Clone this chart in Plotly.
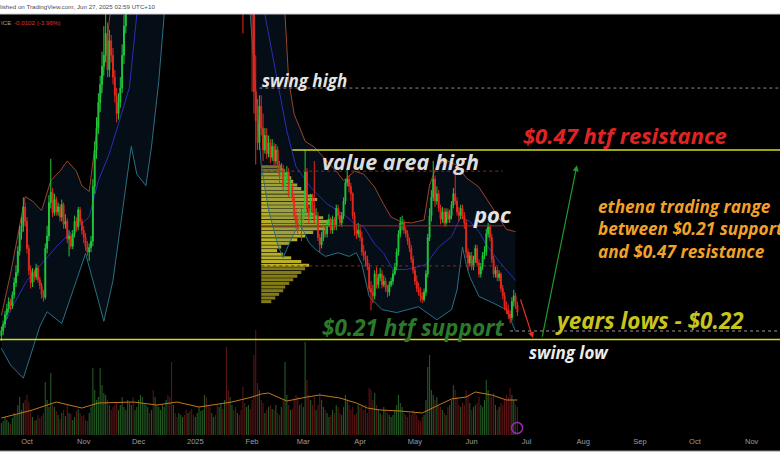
import plotly.graph_objects as go
import pandas as pd

# ---------------- daily OHLC (Sep 17 2024 -> Jun 26 2025) ----------------
opens = [
 0.215,0.222,0.231,0.244,0.252,0.262,0.256,0.271,0.288,0.302,0.331,0.357,0.366,0.392,
 0.372,0.335,0.305,0.288,0.302,0.296,0.308,0.292,0.284,0.272,0.268,0.335,0.352,0.398,0.412,0.384,0.402,0.385,0.392,0.378,0.395,0.368,0.372,0.348,0.352,0.338,0.355,0.372,0.365,0.388,0.372,
 0.360,0.350,0.338,0.330,0.336,0.345,0.420,0.470,0.500,0.535,0.560,0.585,0.600,0.630,0.580,0.620,0.600,0.570,0.545,0.520,0.535,0.555,0.600,0.640,0.670,0.700,0.720,0.770,0.740,0.750,
 0.78,0.85,0.92,0.98,1.02,1.06,1.10,1.07,1.08,0.93,0.97,1.05,1.08,1.12,1.18,1.20,1.25,1.22,1.05,0.95,0.96,0.93,0.92,0.98,1.05,1.08,1.02,0.98,1.00,0.95,0.92,
 0.90,0.95,1.00,1.05,1.08,1.10,1.15,1.02,0.95,0.88,0.90,0.92,0.88,0.82,0.85,0.90,0.88,0.95,0.92,0.85,0.88,0.92,0.90,0.86,0.88,0.85,0.80,0.72,0.70,0.71,0.74,
 0.70,0.66,0.55,0.51,0.48,0.53,0.50,0.47,0.49,0.465,0.48,0.46,0.475,0.455,0.47,0.45,0.435,0.445,0.42,0.43,0.44,0.41,0.42,0.405,0.38,0.37,0.365,0.38,
 0.375,0.385,0.44,0.39,0.38,0.40,0.395,0.375,0.38,0.35,0.34,0.35,0.36,0.355,0.37,0.375,0.36,0.375,0.365,0.39,0.38,0.37,0.38,0.40,0.425,0.43,0.42,0.41,0.38,0.36,0.355,
 0.36,0.35,0.33,0.325,0.32,0.31,0.28,0.275,0.27,0.30,0.285,0.295,0.30,0.285,0.29,0.28,0.275,0.285,0.29,0.30,0.31,0.33,0.355,0.37,0.37,0.36,0.355,0.345,0.335,0.32,
 0.305,0.29,0.28,0.275,0.27,0.265,0.275,0.30,0.35,0.38,0.405,0.43,0.40,0.41,0.39,0.375,0.385,0.37,0.385,0.375,0.38,0.395,0.41,0.40,0.385,0.38,0.39,0.38,0.37,0.33,0.315,
 0.325,0.31,0.32,0.335,0.315,0.30,0.31,0.325,0.33,0.355,0.365,0.35,0.32,0.30,0.305,0.295,0.30,0.28,0.27,0.255,0.25,0.245,0.24,0.262,0.27,0.2576,
]
highs = [
 0.228,0.236,0.249,0.259,0.268,0.266,0.276,0.295,0.312,0.338,0.366,0.378,0.405,0.398,
 0.378,0.340,0.312,0.308,0.306,0.314,0.312,0.296,0.288,0.278,0.342,0.366,0.408,0.458,0.418,0.410,0.406,0.398,0.396,0.402,0.398,0.382,0.376,0.360,0.356,0.360,0.380,0.378,0.392,0.392,0.376,
 0.366,0.356,0.345,0.342,0.352,0.430,0.482,0.515,0.548,0.572,0.605,0.640,0.670,0.645,0.635,0.628,0.610,0.580,0.555,0.548,0.570,0.615,0.655,0.690,0.720,0.740,0.790,0.785,0.770,0.800,
 0.87,0.95,1.01,1.05,1.10,1.14,1.12,1.11,1.09,0.99,1.07,1.11,1.15,1.21,1.24,1.30,1.28,1.24,1.07,1.00,0.98,0.96,1.00,1.08,1.11,1.09,1.04,1.02,1.02,0.97,0.94,
 0.96,1.02,1.07,1.10,1.13,1.18,1.17,1.04,0.97,0.93,0.95,0.94,0.89,0.87,0.92,0.93,0.97,0.98,0.94,0.92,0.95,0.94,0.92,0.90,0.90,0.86,0.81,0.75,0.74,0.76,0.75,
 0.71,0.67,0.60,0.54,0.545,0.545,0.52,0.50,0.50,0.49,0.485,0.485,0.48,0.478,0.475,0.455,0.452,0.45,0.44,0.448,0.445,0.43,0.425,0.41,0.39,0.38,0.392,0.39,
 0.39,0.47,0.445,0.395,0.41,0.41,0.455,0.39,0.385,0.355,0.358,0.368,0.365,0.375,0.382,0.378,0.38,0.378,0.395,0.395,0.385,0.385,0.405,0.43,0.445,0.435,0.425,0.412,0.385,0.368,0.37,
 0.368,0.358,0.34,0.332,0.325,0.315,0.29,0.285,0.305,0.31,0.30,0.308,0.305,0.298,0.295,0.285,0.29,0.295,0.305,0.315,0.335,0.36,0.378,0.38,0.375,0.365,0.36,0.35,0.34,0.325,
 0.31,0.298,0.288,0.282,0.275,0.28,0.305,0.355,0.39,0.415,0.455,0.435,0.42,0.415,0.395,0.392,0.39,0.39,0.39,0.388,0.40,0.418,0.44,0.405,0.392,0.395,0.395,0.385,0.375,0.335,0.33,
 0.33,0.325,0.34,0.34,0.32,0.315,0.33,0.338,0.362,0.37,0.368,0.355,0.325,0.31,0.31,0.305,0.302,0.285,0.275,0.262,0.258,0.25,0.268,0.278,0.274,0.262,
]
lows = [
 0.208,0.216,0.226,0.238,0.247,0.250,0.252,0.266,0.282,0.297,0.325,0.347,0.358,0.365,
 0.328,0.298,0.280,0.282,0.289,0.292,0.288,0.279,0.266,0.262,0.265,0.328,0.345,0.390,0.378,0.380,0.380,0.380,0.372,0.372,0.362,0.362,0.342,0.324,0.334,0.334,0.350,0.358,0.360,0.368,0.354,
 0.342,0.332,0.325,0.318,0.330,0.338,0.410,0.458,0.492,0.522,0.548,0.572,0.590,0.570,0.570,0.590,0.560,0.535,0.508,0.512,0.528,0.548,0.588,0.630,0.660,0.690,0.710,0.728,0.730,0.742,
 0.76,0.83,0.90,0.96,1.00,1.04,1.04,1.04,0.86,0.90,0.95,1.03,1.06,1.10,1.15,1.18,1.18,1.03,0.90,0.92,0.90,0.89,0.90,0.96,1.03,1.00,0.96,0.96,0.93,0.90,0.87,
 0.88,0.93,0.98,1.03,1.06,1.08,1.00,0.93,0.86,0.86,0.88,0.86,0.79,0.80,0.84,0.86,0.87,0.90,0.83,0.83,0.87,0.88,0.84,0.85,0.83,0.78,0.63,0.66,0.68,0.70,0.68,
 0.55,0.52,0.45,0.47,0.47,0.49,0.455,0.465,0.458,0.46,0.452,0.455,0.448,0.45,0.44,0.425,0.43,0.415,0.412,0.425,0.405,0.405,0.398,0.375,0.362,0.355,0.36,0.345,
 0.368,0.38,0.385,0.37,0.372,0.385,0.37,0.368,0.345,0.33,0.335,0.345,0.35,0.35,0.365,0.355,0.355,0.36,0.36,0.375,0.365,0.365,0.375,0.395,0.42,0.412,0.40,0.375,0.352,0.348,0.35,
 0.345,0.325,0.318,0.31,0.305,0.275,0.25,0.26,0.265,0.28,0.28,0.29,0.28,0.282,0.275,0.268,0.27,0.282,0.285,0.298,0.305,0.325,0.35,0.36,0.355,0.35,0.34,0.33,0.315,0.30,
 0.285,0.275,0.27,0.262,0.26,0.262,0.27,0.295,0.345,0.372,0.40,0.392,0.395,0.385,0.368,0.37,0.365,0.365,0.37,0.37,0.375,0.39,0.395,0.38,0.372,0.375,0.375,0.362,0.322,0.305,0.31,
 0.305,0.305,0.315,0.31,0.295,0.295,0.305,0.32,0.325,0.35,0.345,0.315,0.295,0.295,0.29,0.29,0.275,0.265,0.25,0.245,0.238,0.232,0.236,0.255,0.252,0.242,
]
closes = [
 0.222,0.231,0.244,0.252,0.262,0.256,0.271,0.288,0.302,0.331,0.357,0.366,0.392,0.372,
 0.335,0.305,0.288,0.302,0.296,0.308,0.292,0.284,0.272,0.268,0.335,0.352,0.398,0.412,0.384,0.402,0.385,0.392,0.378,0.395,0.368,0.372,0.348,0.352,0.338,0.355,0.372,0.365,0.388,0.372,0.360,
 0.350,0.338,0.330,0.336,0.345,0.420,0.470,0.500,0.535,0.560,0.585,0.600,0.630,0.580,0.620,0.600,0.570,0.545,0.520,0.535,0.555,0.600,0.640,0.670,0.700,0.720,0.770,0.740,0.750,0.780,
 0.85,0.92,0.98,1.02,1.06,1.10,1.07,1.08,0.93,0.97,1.05,1.08,1.12,1.18,1.20,1.25,1.22,1.05,0.95,0.96,0.93,0.92,0.98,1.05,1.08,1.02,0.98,1.00,0.95,0.92,0.90,
 0.95,1.00,1.05,1.08,1.10,1.15,1.02,0.95,0.88,0.90,0.92,0.88,0.82,0.85,0.90,0.88,0.95,0.92,0.85,0.88,0.92,0.90,0.86,0.88,0.85,0.80,0.72,0.70,0.71,0.74,0.70,
 0.66,0.55,0.51,0.48,0.53,0.50,0.47,0.49,0.465,0.48,0.46,0.475,0.455,0.47,0.45,0.435,0.445,0.42,0.43,0.44,0.41,0.42,0.405,0.38,0.37,0.365,0.38,0.375,
 0.385,0.44,0.39,0.38,0.40,0.395,0.375,0.38,0.35,0.34,0.35,0.36,0.355,0.37,0.375,0.36,0.375,0.365,0.39,0.38,0.37,0.38,0.40,0.425,0.43,0.42,0.41,0.38,0.36,0.355,0.36,
 0.35,0.33,0.325,0.32,0.31,0.28,0.275,0.27,0.30,0.285,0.295,0.30,0.285,0.29,0.28,0.275,0.285,0.29,0.30,0.31,0.33,0.355,0.37,0.37,0.36,0.355,0.345,0.335,0.32,0.305,
 0.29,0.28,0.275,0.27,0.265,0.275,0.30,0.35,0.38,0.405,0.43,0.40,0.41,0.39,0.375,0.385,0.37,0.385,0.375,0.38,0.395,0.41,0.40,0.385,0.38,0.39,0.38,0.37,0.33,0.315,0.325,
 0.31,0.32,0.335,0.315,0.30,0.31,0.325,0.33,0.355,0.365,0.35,0.32,0.30,0.305,0.295,0.30,0.28,0.27,0.255,0.25,0.245,0.24,0.262,0.27,0.2576,0.2474,
]
volumes = [
 12,14,18,15,13,11,17,22,20,30,38,25,32,35,
 40,33,25,18,14,15,20,17,19,22,53,35,28,62,30,28,24,20,16,22,25,19,30,22,21,15,18,24,26,22,19,
 20,15,14,22,28,67,45,35,38,67,50,42,40,35,30,25,28,30,33,25,30,38,28,25,35,32,30,38,25,28,
 35,40,38,32,30,28,22,25,45,38,30,28,25,30,28,35,40,38,73,30,22,18,22,20,18,20,25,22,24,26,20,
 18,22,28,24,25,40,38,30,28,22,18,20,30,28,32,26,35,88,45,38,30,25,28,22,20,25,48,32,28,30,26,
 35,80,105,52,45,35,32,22,25,28,30,26,25,30,22,20,28,35,73,40,30,25,26,35,40,38,30,32,
 28,93,55,40,35,30,38,25,30,42,35,28,25,22,18,20,25,22,30,28,22,20,28,40,35,30,25,28,20,22,30,
 28,30,25,30,22,47,45,35,42,30,25,22,20,28,25,22,20,18,20,25,30,40,32,28,22,20,18,22,20,25,
 22,20,15,14,18,20,35,68,80,45,40,35,38,30,28,25,22,20,28,30,35,50,45,38,30,28,32,30,45,40,32,
 25,28,30,32,38,30,28,35,55,45,40,38,42,30,25,28,32,30,35,40,38,47,40,35,30,28,
]
n = len(closes)
assert len(opens) == n and len(highs) == n and len(lows) == n and len(volumes) == n, \
    (len(opens), len(highs), len(lows), len(closes), len(volumes))
dates = pd.date_range("2024-09-17", periods=n, freq="D")

# ---------------- Bollinger bands ----------------
bb_upper_dates = ["2024-09-17","2024-09-22","2024-09-30","2024-10-04","2024-10-09","2024-10-14","2024-10-19","2024-10-23","2024-10-28","2024-10-31","2024-11-04","2024-11-08","2024-11-15","2024-11-25","2024-12-08","2024-12-25","2025-01-10","2025-01-25","2025-02-05","2025-02-12","2025-02-19","2025-02-21","2025-02-24","2025-02-27","2025-03-02","2025-03-07","2025-03-12","2025-03-19","2025-03-23","2025-03-29","2025-04-03","2025-04-09","2025-04-14","2025-04-18","2025-04-24","2025-04-29","2025-05-06","2025-05-09","2025-05-13","2025-05-18","2025-05-24","2025-05-29","2025-06-05","2025-06-12","2025-06-20","2025-06-25"]
bb_upper = [0.243,0.300,0.406,0.400,0.387,0.428,0.441,0.455,0.441,0.421,0.413,0.493,0.648,0.85,1.2,1.4,1.35,1.2,1.1,0.85,0.656,0.566,0.519,0.501,0.482,0.474,0.460,0.441,0.428,0.441,0.437,0.419,0.395,0.378,0.371,0.370,0.374,0.422,0.449,0.456,0.449,0.432,0.419,0.392,0.361,0.358]
bb_mid_dates = ["2024-09-17","2024-09-23","2024-10-01","2024-10-09","2024-10-17","2024-10-24","2024-10-31","2024-11-04","2024-11-09","2024-11-15","2024-11-20","2024-11-26","2024-11-30","2024-12-10","2024-12-25","2025-01-10","2025-01-25","2025-02-03","2025-02-08","2025-02-13","2025-02-20","2025-02-25","2025-03-05","2025-03-14","2025-03-23","2025-03-29","2025-04-03","2025-04-09","2025-04-14","2025-04-19","2025-04-26","2025-05-03","2025-05-07","2025-05-14","2025-05-21","2025-05-26","2025-05-31","2025-06-05","2025-06-09","2025-06-16","2025-06-25"]
bb_mid = [0.222,0.255,0.291,0.314,0.337,0.355,0.369,0.378,0.428,0.465,0.506,0.556,0.656,0.85,1.05,1.0,0.92,0.85,0.656,0.588,0.496,0.447,0.419,0.396,0.382,0.369,0.365,0.341,0.328,0.306,0.306,0.310,0.313,0.337,0.351,0.378,0.372,0.358,0.340,0.317,0.291]
bb_lower_dates = ["2024-09-17","2024-09-22","2024-09-29","2024-10-08","2024-10-12","2024-10-20","2024-10-28","2024-11-02","2024-11-06","2024-11-12","2024-11-17","2024-11-22","2024-11-27","2024-11-30","2024-12-05","2024-12-08","2024-12-12","2024-12-15","2024-12-25","2025-01-10","2025-01-25","2025-01-31","2025-02-04","2025-02-06","2025-02-10","2025-02-15","2025-02-18","2025-02-21","2025-02-25","2025-02-28","2025-03-04","2025-03-08","2025-03-13","2025-03-20","2025-03-26","2025-03-30","2025-04-02","2025-04-06","2025-04-13","2025-04-21","2025-05-03","2025-05-13","2025-05-21","2025-05-24","2025-05-27","2025-05-29","2025-05-31","2025-06-05","2025-06-12","2025-06-20","2025-06-25"]
bb_lower = [0.198,0.175,0.157,0.228,0.248,0.232,0.291,0.328,0.291,0.235,0.291,0.382,0.475,0.437,0.421,0.474,0.564,0.656,0.80,0.75,0.78,0.656,0.525,0.449,0.388,0.340,0.322,0.340,0.361,0.365,0.343,0.333,0.324,0.329,0.324,0.329,0.313,0.269,0.251,0.247,0.255,0.237,0.251,0.278,0.337,0.313,0.296,0.269,0.261,0.251,0.221]

# ---------------- volume moving average ----------------
vma_dates = ["2024-09-17","2024-10-04","2024-10-17","2024-10-31","2024-11-09","2024-11-28","2024-12-11","2024-12-22","2025-01-03","2025-01-21","2025-02-01","2025-02-06","2025-02-10","2025-02-20","2025-03-03","2025-03-10","2025-03-21","2025-03-30","2025-04-05","2025-04-12","2025-04-23","2025-05-05","2025-05-14","2025-05-21","2025-05-29","2025-06-03","2025-06-12","2025-06-20","2025-06-26"]
vma_vals = [17,25,33,27,32,33,30,33,28,33,38,41,42,34,38,40,37,32,27,25,24,22,30,36,38,43,40,35,35]

# ---------------- visible-range volume profile ----------------
vp_anchor = "2025-02-06"
vp_prices = [0.447,0.442,0.437,0.432,0.427,0.422,0.417,0.412,0.407,0.402,0.397,0.392,0.387,0.382,0.377,0.372,0.367,0.362,0.357,0.352,0.347,0.342,0.337,0.332,0.327,0.322,0.317,0.312,0.307,0.302,0.297,0.292,0.287,0.282,0.277,0.272,0.267,0.262]
vp_days = [10.9,13.1,15.3,16.4,17.5,19.7,21.9,25.1,28.4,30.6,27.3,24.0,25.1,29.5,33.9,37.2,39.3,35.0,28.4,24.0,19.7,15.3,10.9,8.7,12.0,16.4,21.9,26.2,24.0,21.9,19.7,17.5,15.3,13.1,12.0,9.8,7.7,5.5]
va_high, poc_level, va_low = 0.441, 0.366, 0.311

# ---------------- key levels ----------------
resistance = 0.47
support = 0.21
swing_high = 0.555
years_low = 0.2217

month_ticks = ["2024-10-01","2024-11-01","2024-12-01","2025-01-01","2025-02-01","2025-03-01","2025-04-01","2025-05-01","2025-06-01","2025-07-01","2025-08-01","2025-09-01","2025-10-01","2025-11-01"]
month_labels = ["Oct","Nov","Dec","2025","Feb","Mar","Apr","May","Jun","Jul","Aug","Sep","Oct","Nov"]

X_RANGE = ["2024-09-16 06:00", "2025-11-16 12:00"]
Y_RANGE = [0.079, 0.6566]
DAY_MS = 86400000

fig = go.Figure()

# Bollinger fill + lines (main axis, below candles)
fig.add_trace(go.Scatter(
    x=list(bb_upper_dates) + list(reversed(bb_lower_dates)),
    y=list(bb_upper) + list(reversed(bb_lower)),
    fill="toself", fillcolor="rgba(30,80,140,0.16)", line=dict(width=0),
    mode="lines", hoverinfo="skip", showlegend=False))

# volume profile
vp_colors = ["rgba(225,215,50,0.82)" if va_low <= p <= va_high else "rgba(175,165,30,0.75)" for p in vp_prices]
fig.add_trace(go.Bar(
    y=vp_prices, x=[d * DAY_MS for d in vp_days], base=[vp_anchor] * len(vp_prices),
    orientation="h", width=0.0042, marker=dict(color=vp_colors, line=dict(width=0)),
    showlegend=False, hoverinfo="skip"))

fig.add_trace(go.Scatter(x=bb_upper_dates, y=bb_upper, mode="lines",
                         line=dict(color="#9a4526", width=1), showlegend=False))
fig.add_trace(go.Scatter(x=bb_mid_dates, y=bb_mid, mode="lines",
                         line=dict(color="#2c2cb4", width=1), showlegend=False))
fig.add_trace(go.Scatter(x=bb_lower_dates, y=bb_lower, mode="lines",
                         line=dict(color="#2a6f80", width=1), showlegend=False))

# volume (overlay axis y2)
vol_colors = ["rgba(60,150,60,0.6)" if c >= o else "rgba(150,35,35,0.6)" for o, c in zip(opens, closes)]
fig.add_trace(go.Bar(x=dates, y=volumes, yaxis="y2", width=0.6 * DAY_MS,
                     marker=dict(color=vol_colors, line=dict(width=0)), showlegend=False))
fig.add_trace(go.Scatter(x=vma_dates, y=vma_vals, yaxis="y2", mode="lines",
                         line=dict(color="#c07a1e", width=1), showlegend=False))
fig.add_trace(go.Scatter(x=["2025-06-25 20:00"], y=[7], yaxis="y2", mode="markers",
                         marker=dict(symbol="circle-open", size=11, color="#9c27b0", line=dict(width=1.5)),
                         showlegend=False))

# candles (overlay axis y3, on top)
fig.add_trace(go.Candlestick(
    x=dates, open=opens, high=highs, low=lows, close=closes, yaxis="y3",
    increasing=dict(line=dict(color="#22c83a", width=1), fillcolor="#22c83a"),
    decreasing=dict(line=dict(color="#e8281e", width=1), fillcolor="#e8281e"),
    whiskerwidth=0, showlegend=False))

shapes = []
# black band behind the time axis, borders
shapes.append(dict(type="rect", xref="paper", yref="paper", x0=0, x1=1, y0=-16/421, y1=0,
                   fillcolor="black", line=dict(width=0), layer="below"))
shapes.append(dict(type="line", xref="paper", yref="paper", x0=0, x1=1, y0=1.0, y1=1.0,
                   line=dict(color="#c9ccd3", width=1)))
shapes.append(dict(type="line", xref="paper", yref="paper", x0=0, x1=1, y0=-16/421, y1=-16/421,
                   line=dict(color="#8a8d95", width=1)))
# levels
shapes.append(dict(type="line", xref="paper", yref="y", x0=0, x1=1, y0=support, y1=support,
                   line=dict(color="#d8d81c", width=1.5)))
shapes.append(dict(type="line", xref="x", yref="y", x0="2025-02-23", x1=X_RANGE[1], y0=resistance, y1=resistance,
                   line=dict(color="#d8d81c", width=1.5)))
shapes.append(dict(type="line", xref="x", yref="y", x0="2025-02-05", x1=X_RANGE[1], y0=swing_high, y1=swing_high,
                   line=dict(color="#8c8c8c", width=1, dash="dot")))
shapes.append(dict(type="line", xref="x", yref="y", x0=vp_anchor, x1="2025-06-18", y0=va_high, y1=va_high,
                   line=dict(color="#8a2a22", width=1, dash="dot")))
shapes.append(dict(type="line", xref="x", yref="y", x0=vp_anchor, x1="2025-06-18", y0=poc_level, y1=poc_level,
                   line=dict(color="#b0221c", width=1)))
shapes.append(dict(type="line", xref="x", yref="y", x0=vp_anchor, x1="2025-06-18", y0=va_low, y1=va_low,
                   line=dict(color="#8a2a22", width=1, dash="dot")))
shapes.append(dict(type="line", xref="x", yref="y", x0="2025-06-22", x1=X_RANGE[1], y0=years_low, y1=years_low,
                   line=dict(color="#9a9a9a", width=1, dash="dot")))


def px(x):
    return x / 780


def py(y):
    return (435 - y) / 421


TXT_FONT = "Open Sans"
annotations = []


def label(text, x, y, color, size):
    annotations.append(dict(text="<b><i>" + text + "</i></b>", xref="paper", yref="paper",
                            x=px(x), y=py(y), xanchor="left", yanchor="middle", align="left",
                            showarrow=False, font=dict(family=TXT_FONT, size=size, color=color)))


label("swing high", 260, 81, "#e4e4e4", 17)
label("value area high", 320, 162, "#dcdcdc", 21.5)
label("$0.47 htf resistance", 521, 135, "#e02424", 22)
label("poc", 471, 214, "#e4e4e4", 22)
label("ethena trading range<br>between $0.21 support<br>and $0.47 resistance", 596, 229, "#f2a12a", 17.2)
label("years lows - $0.22", 553, 320, "#c8c41e", 22.5)
label("$0.21 htf support", 320, 327, "#2a7a2a", 22.5)
label("swing low", 527, 352, "#ececec", 17)

annotations.append(dict(text="Published on TradingView.com, Jun 27, 2025 02:59 UTC+10", xref="paper", yref="paper",
                        x=px(157), y=py(7), xanchor="right", yanchor="middle", showarrow=False,
                        font=dict(family="Liberation Sans", size=6.2, color="#4a4d56")))
annotations.append(dict(text="ICE", xref="paper", yref="paper", x=px(-1), y=py(23), xanchor="left",
                        yanchor="middle", showarrow=False, font=dict(family="Liberation Sans", size=6.2, color="#9a9da6")))
annotations.append(dict(text="-0.0102 (-3.96%)", xref="paper", yref="paper", x=px(12), y=py(23), xanchor="left",
                        yanchor="middle", showarrow=False, font=dict(family="Liberation Sans", size=6.2, color="#e0302a")))

# arrows
annotations.append(dict(x="2025-07-04 12:00", y=0.212, ax="2025-06-27 10:00", ay=0.267,
                        xref="x", yref="y", axref="x", ayref="y", text="", showarrow=True,
                        arrowhead=2, arrowsize=1, arrowwidth=1.2, arrowcolor="#e0302a"))
annotations.append(dict(x="2025-07-28 12:00", y=0.449, ax="2025-07-09 10:00", ay=0.212,
                        xref="x", yref="y", axref="x", ayref="y", text="", showarrow=True,
                        arrowhead=2, arrowsize=1, arrowwidth=1.2, arrowcolor="#1f9a2e"))

fig.update_layout(
    width=780, height=470,
    margin=dict(l=0, r=0, t=14, b=35, autoexpand=False),
    paper_bgcolor="white", plot_bgcolor="black",
    showlegend=False, barmode="overlay",
    xaxis=dict(type="date", range=X_RANGE, showgrid=False, zeroline=False, showline=False,
               tickvals=month_ticks, ticktext=month_labels, ticks="",
               tickfont=dict(family="Liberation Sans", size=7.5, color="#9a9da6"),
               rangeslider=dict(visible=False), fixedrange=True, automargin=False),
    yaxis=dict(range=Y_RANGE, visible=False, showgrid=False, fixedrange=True),
    yaxis2=dict(range=[0, 421], overlaying="y", visible=False, showgrid=False),
    yaxis3=dict(range=Y_RANGE, overlaying="y", visible=False, showgrid=False),
    shapes=shapes, annotations=annotations,
)

fig.write_html("out.html", config={"displayModeBar": False},
               post_script="document.body.style.margin='0';document.body.style.padding='0';document.body.style.overflow='hidden';")
